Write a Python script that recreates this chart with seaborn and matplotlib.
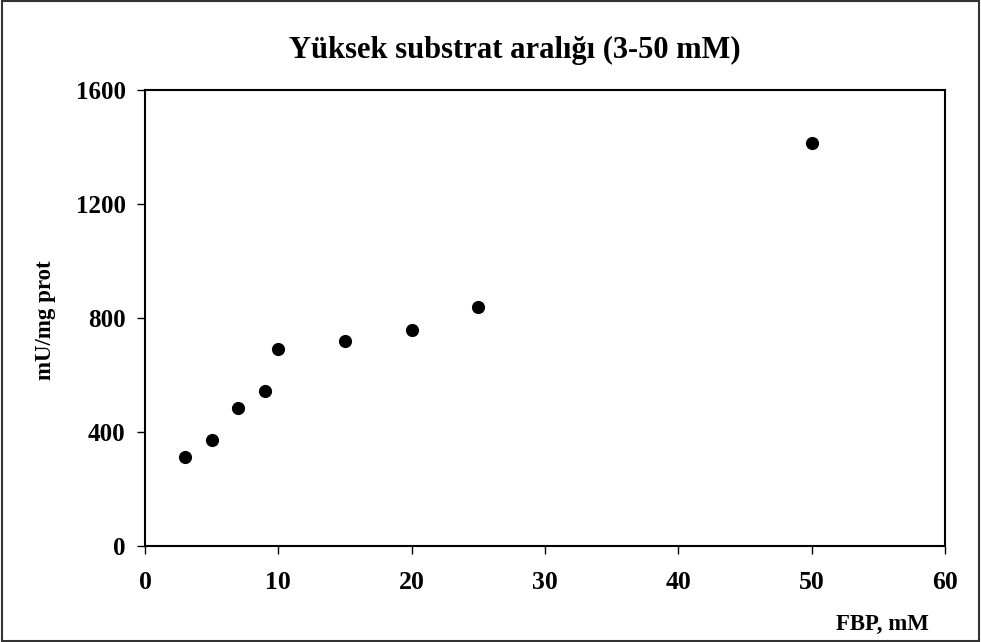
import matplotlib
matplotlib.use("Agg")
import matplotlib.pyplot as plt
import seaborn as sns
import pandas as pd
from matplotlib.patches import Rectangle

fbp_mM = [3, 5, 7, 9, 10, 15, 20, 25, 50]
activity = [310, 370, 484, 544, 690, 718, 758, 839, 1413]
x_ticks = [0, 10, 20, 30, 40, 50, 60]
y_ticks = [0, 400, 800, 1200, 1600]
title = "Yüksek substrat aralığı (3-50 mM)"
xlabel = "FBP, mM"
ylabel = "mU/mg prot"

sns.set_theme(style="white")
plt.rcParams["font.family"] = ["Liberation Serif", "DejaVu Serif"]
plt.rcParams["font.weight"] = "bold"
plt.rcParams["text.color"] = "black"
plt.rcParams["xtick.color"] = "black"
plt.rcParams["ytick.color"] = "black"

df = pd.DataFrame({"x": fbp_mM, "y": activity})

fig = plt.figure(figsize=(9.81, 6.42), dpi=100)
ax = fig.add_axes([145/981, 1-545.7/642, 800/981, (545.7-89.7)/642])
sns.scatterplot(data=df, x="x", y="y", ax=ax, color="black", s=90,
                edgecolor="black", linewidth=0, legend=False)

ax.set_xlim(0, 60)
ax.set_ylim(0, 1600)
ax.set_xticks(x_ticks)
ax.set_yticks(y_ticks)
ax.set_xticklabels([str(t) for t in x_ticks], fontsize=18.5, fontweight="bold", color="black")
ax.set_yticklabels([str(t) for t in y_ticks], fontsize=18, fontweight="bold", color="black")
ax.tick_params(axis="both", direction="out", length=6, width=1, color="black",
               bottom=True, left=True)
ax.tick_params(axis="y", pad=8)
ax.tick_params(axis="x", pad=12)
for sp in ax.spines.values():
    sp.set_color("black")
    sp.set_linewidth(1.5)
ax.set_xlabel("")
ax.set_ylabel("")

fig.text(515/981, 1-50/642, title, ha="center", va="center", fontsize=22, fontweight="bold", color="black")
fig.text(882/981, 1-624/642, xlabel, ha="center", va="center", fontsize=16.5, fontweight="bold", color="black")
fig.text(45/981, 1-320/642, ylabel, ha="center", va="center", rotation=90, fontsize=16.5, fontweight="bold", color="black")

fig.patches.append(Rectangle((0.002, 0.002), 0.996, 0.996, transform=fig.transFigure,
                             fill=False, edgecolor="#333333", linewidth=1.5))

fig.savefig("out.png", dpi=100)
